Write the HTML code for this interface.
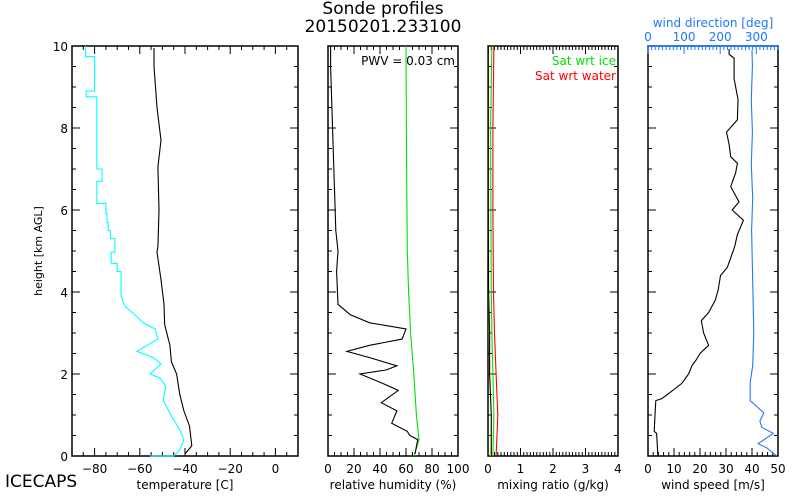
<!DOCTYPE html>
<html><head><meta charset="utf-8"><style>
html,body{margin:0;padding:0;background:#fff;}
svg{display:block;font-family:"DejaVu Sans","Liberation Sans",sans-serif;}
</style></head><body>
<svg id="c" width="800" height="500" viewBox="0 0 800 500" xmlns="http://www.w3.org/2000/svg">
<text x="383" y="14" font-size="17" text-anchor="middle">Sonde profiles</text>
<text x="383" y="32" font-size="17" text-anchor="middle">20150201.233100</text>
<text x="5" y="487" font-size="17">ICECAPS</text>
<text transform="translate(42,251) rotate(-90)" font-size="11" text-anchor="middle">height [km AGL]</text>
<g id="plots"></g>
</svg>
<script>
// ---- data ----
const tempH = [0.05,0.25,0.73,1.1,1.5,2.0,2.3,2.7,3.2,3.7,4.3,4.97,5.1,6.0,7.05,7.7,8.5,9.5,9.95];
const tempV = [-40,-37,-38,-40.5,-42.3,-43.7,-46,-46.7,-49,-49.3,-50.6,-52.4,-52,-51.5,-52,-50.6,-52.4,-53.7,-53.7];
const dewH = [0,0,0.15,0.4,0.64,0.97,1.37,1.7,1.9,2.0,2.25,2.4,2.55,2.7,2.85,3.1,3.25,3.4,3.65,3.9];
const dewV = [-55.5,-45,-42.3,-40.5,-42.3,-46,-49.7,-48.5,-51,-55.5,-50.6,-54,-61.3,-56.8,-52,-53.3,-58.6,-61.3,-66.5,-68.3];
const dewStepH = [3.9,4.5,4.7,4.97,5.1,5.3,5.5,5.7,5.9,6.16,6.57,6.7,7.0,8.35,8.76,8.9,9.7,9.74,10];
const dewStepV = [-68.3,-70,-72.7,-71,-71,-73,-74,-74.5,-75,-79,-79,-76.7,-79,-79,-83.7,-80,-80,-84,-84];
const rhH = [0.05,0.4,0.5,0.6,0.8,1.1,1.3,1.6,1.8,2.0,2.1,2.2,2.4,2.55,2.7,2.85,3.1,3.25,3.45,3.7,4.5,5.0,5.5,6.5,7.5,8.5,9.5,10];
const rhV = [67,69,63,61,49,53,41,54,40,24.6,45,53,32,14.5,32,57,60,32,17,7.7,6.6,7.7,6,5,4,3,2,2];
const rhIceH = [0,0.4,1,2,3,4,5,7,10];
const rhIceV = [66,70,68,66,63.5,62,61,60.5,60];
const mrH = [0,1,2,3,4,6,8,10];
const mrV = [0.1,0.1,0.05,0.05,0.02,0.01,0.01,0.01];
const mrYelV = [0.08,0.1,0.06,0.04,0.02,0.01,0.01,0.01];
const mrIceV = [0.15,0.18,0.15,0.12,0.1,0.09,0.08,0.12];
const mrWaterV = [0.25,0.3,0.25,0.2,0.17,0.15,0.15,0.18];
const wsH = [0,0.55,0.6,1.0,1.35,1.4,1.55,1.77,2.0,2.2,2.35,2.5,2.7,3.0,3.3,3.5,3.8,4.05,4.4,4.6,5.1,5.4,5.75,6.0,6.2,6.57,6.9,7.14,7.3,7.6,7.9,8.2,8.7,9.2,9.7,9.8,9.93];
const wsV = [3.8,3.3,2.4,2.7,3,5.3,8.5,13,15.6,16.9,18.6,20,23.3,21.4,20.5,23.3,25.9,27,27.9,30.5,33.3,34.4,36.7,32.4,35,31.8,33.7,34.4,31.8,31.2,30.2,34.4,34.6,33.1,33.1,31.2,31.2];
const wdH = [0,0.2,0.3,0.55,0.7,0.85,1.05,1.35,1.8,2.2,3.0,3.8,4.6,5.5,6.3,7.1,7.9,8.7,9.5,9.9];
const wdV = [356,329,305,347,315,310,321,283,283,290,293,291,289,287,290,286,289,286,289,288];
const tempTicks = [-80,-60,-40,-20,0];
const rhTicks = [0,20,40,60,80,100];
const mrTicks = [0,1,2,3,4];
const wsTicks = [0,10,20,30,40,50];
const wdTicks = [0,100,200,300];
const hTicks = [0,2,4,6,8,10];

const NS="http://www.w3.org/2000/svg";
const root=document.getElementById('plots');
const Y0=456,Y1=46;
function yS(h){return Y0+(Y1-Y0)*h/10;}
function mk(tag,attrs,parent){const e=document.createElementNS(NS,tag);for(const k in attrs)e.setAttribute(k,attrs[k]);(parent||root).appendChild(e);return e;}
function xScale(x0,x1,d0,d1){return v=>x0+(x1-x0)*(v-d0)/(d1-d0);}

function panel(name,x0,x1,d0,d1,ticks,minor,xlabel,showYlabels,topTicks){
  const g=mk('g',{});
  
  
  const r=mk('rect',{x:x0,y:Y1,width:x1-x0,height:Y0-Y1,fill:'none',stroke:'#000','stroke-width':1.5},g);
  
  
  const xs=xScale(x0,x1,d0,d1);
  let p='';
  for(let v=d0;v<=d1+1e-9;v+=minor){const x=xs(v).toFixed(1);const big=ticks.some(t=>Math.abs(t-v)<1e-6);const L=big?8:4;p+=`M${x},${Y0}v${-L}`;if(topTicks)p+=`M${x},${Y1}v${L}`;}
  for(let h=0;h<=10.001;h+=0.5){const y=yS(h).toFixed(1);const L=(Math.abs(h/2-Math.round(h/2))<1e-6)?8:4;p+=`M${x0},${y}h${L}M${x1},${y}h${-L}`;}
  const tk=mk('path',{d:p,stroke:'#000','stroke-width':1,fill:'none'},g);
  
  
  ticks.forEach(t=>{
    const tx=mk('text',{x:xs(t),y:473,'font-size':12,'text-anchor':'middle'},g);
    tx.textContent=(t<0?'\u2212'+(-t):t);
    
    
  });
  const xl=mk('text',{x:(x0+x1)/2,y:489,'font-size':12,'text-anchor':'middle'},g);
  xl.textContent=xlabel;
  
  
  if(showYlabels){hTicks.forEach(h=>{
    const t=mk('text',{x:x0-4,y:yS(h)+5,'font-size':12,'text-anchor':'end'},g);
    t.textContent=h;
    
    
  });}
  return xs;
}
function line(xs,H,V,color,name,step){
  let d='';
  for(let i=0;i<H.length;i++){
    const x=xs(V[i]).toFixed(1),y=yS(H[i]).toFixed(1);
    if(i===0)d+='M'+x+','+y;
    else if(step){d+='L'+xs(V[i-1]).toFixed(1)+','+y+'L'+x+','+y;}
    else d+='L'+x+','+y;
  }
  const p=mk('path',{d:d,fill:'none',stroke:color,'stroke-width':1.1});
  
  
}

// Panel 1 temperature
const xT=panel('temperature',72,298,-90,10,tempTicks,5,'temperature [C]',true,true);
line(xT,dewH,dewV,'#00ffff','dewpoint-line');
line(xT,dewStepH,dewStepV,'#00ffff','dewpoint-upper-line',true);
line(xT,tempH,tempV,'#000','temperature-line');
// Panel 2 RH
const xR=panel('humidity',328,458,0,100,rhTicks,5,'relative humidity (%)',false,true);
line(xR,rhIceH,rhIceV,'#00e000','rh-ice-line');
line(xR,rhH,rhV,'#000','rh-line');
const pwv=mk('text',{x:455,y:65,'font-size':12,'text-anchor':'end'});
pwv.textContent='PWV = 0.03 cm';


// Panel 3 mixing ratio
const xM=panel('mixing-ratio',488,618,0,4,mrTicks,0.1,'mixing ratio (g/kg)',false,true);
line(xM,mrH,mrWaterV,'#ff0000','sat-water-line');
line(xM,mrH,mrIceV,'#00e000','sat-ice-line');
line(xM,mrH,mrYelV,'#ffff00','mixing-ratio-yellow-line');
line(xM,mrH,mrV,'#000','mixing-ratio-line');
const l1=mk('text',{x:616,y:65,'font-size':12,'text-anchor':'end',fill:'#00e000'});
l1.textContent='Sat wrt ice';


const l2=mk('text',{x:616,y:80,'font-size':12,'text-anchor':'end',fill:'#ff0000'});
l2.textContent='Sat wrt water';


// Panel 4 wind
const xW=panel('wind',648,778,0,50,wsTicks,2,'wind speed [m/s]',false,false);
const xD=xScale(648,778,0,360);
let dp='';
for(let v=0;v<=360;v+=10){const x=xD(v).toFixed(1);dp+=`M${x},${Y1}v${v%100===0?8:4}`;}
const dt=mk('path',{d:dp,stroke:'#1e78ff','stroke-width':1,fill:'none'});


const ta=mk('line',{x1:648,y1:Y1,x2:778,y2:Y1,stroke:'#1e78ff','stroke-width':1.5});


wdTicks.forEach(t=>{
  const tx=mk('text',{x:xD(t),y:41,'font-size':12,'text-anchor':'middle',fill:'#1e78ff'});
  tx.textContent=t;
  
  
});
const dl=mk('text',{x:713,y:27,'font-size':12,'text-anchor':'middle',fill:'#1e78ff'});
dl.textContent='wind direction [deg]';


line(xD,wdH,wdV,'#1e78ff','wind-direction-line');
line(xW,wsH,wsV,'#000','wind-speed-line');
</script>
</body></html>
